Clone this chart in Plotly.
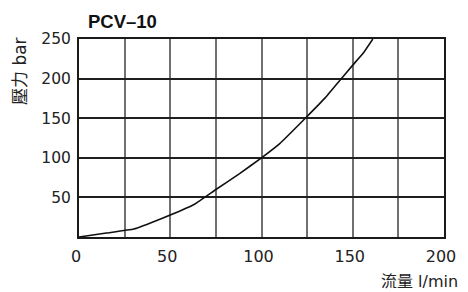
import plotly.graph_objects as go

flow = [0, 15, 30, 45, 63, 75, 88, 100, 110, 124, 135, 143, 150, 156, 161]
pressure = [0, 5, 10, 23, 41, 60, 80, 100, 118, 150, 176, 198, 217, 233, 250]

x_ticks = [0, 50, 100, 150, 200]
y_ticks = [50, 100, 150, 200, 250]

title_text = "PCV–10"
x_title = "流量 l/min"
y_title = "壓力 bar"

TICKFONT = "DejaVu Sans, Noto Sans CJK TC, sans-serif"
TITLEFONT = "Liberation Sans, Arial, sans-serif"
LABELFONT = "DejaVu Sans, Noto Sans CJK TC, sans-serif"

fig = go.Figure()
fig.add_trace(go.Scatter(x=flow, y=pressure, mode="lines",
                         line=dict(color="#111111", width=1.6, shape="spline", smoothing=0.3),
                         hoverinfo="skip", showlegend=False))

# page body has an 8px margin: figure is 460x284 so the plot lands where the reference has it
fig.update_layout(
    width=460, height=284,
    margin=dict(l=70.5, r=18.7, t=31, b=55),
    paper_bgcolor="white", plot_bgcolor="white",
    font=dict(family=TICKFONT, size=16, color="#222222"),
    showlegend=False,
)
fig.update_xaxes(
    range=[0, 200], tickvals=x_ticks, ticktext=[str(v) for v in x_ticks],
    tickfont=dict(family=TICKFONT, size=16, color="#222222"),
    showgrid=True, gridcolor="#707070", gridwidth=1.8,
    minor=dict(dtick=25, tick0=0, showgrid=True, gridcolor="#707070", gridwidth=1.8),
    showline=True, linecolor="#1a1a1a", linewidth=2, mirror=True,
    ticks="outside", ticklen=4, tickcolor="rgba(0,0,0,0)", ticklabelshift=-3,
    zeroline=False, fixedrange=True,
)
fig.update_yaxes(
    range=[0, 250], tickvals=y_ticks, ticktext=[str(v) for v in y_ticks],
    tickfont=dict(family=TICKFONT, size=15.5, color="#222222"),
    showgrid=True, gridcolor="#1f1f1f", gridwidth=1.8,
    showline=True, linecolor="#1a1a1a", linewidth=2, mirror=True,
    ticks="outside", ticklen=3, tickcolor="rgba(0,0,0,0)",
    zeroline=False, fixedrange=True,
)

fig.add_annotation(text="<b>" + title_text + "</b>", xref="paper", yref="paper",
                   x=0, xshift=6.5, y=1.0, yshift=17.5, xanchor="left", yanchor="middle",
                   showarrow=False, font=dict(family=TITLEFONT, size=18.5, color="#111111"))
fig.add_annotation(text=y_title, xref="paper", yref="paper",
                   x=0, xshift=-59.5, y=1.0, yshift=-32.5, xanchor="center", yanchor="middle",
                   textangle=-90, showarrow=False, font=dict(family=LABELFONT, size=17, color="#222222"))
fig.add_annotation(text=x_title, xref="paper", yref="paper",
                   x=1.0, xshift=15.7, y=0, yshift=-44, xanchor="right", yanchor="middle",
                   showarrow=False, font=dict(family=LABELFONT, size=16, color="#222222"))

fig.write_html("out.html", config={"displayModeBar": False})
